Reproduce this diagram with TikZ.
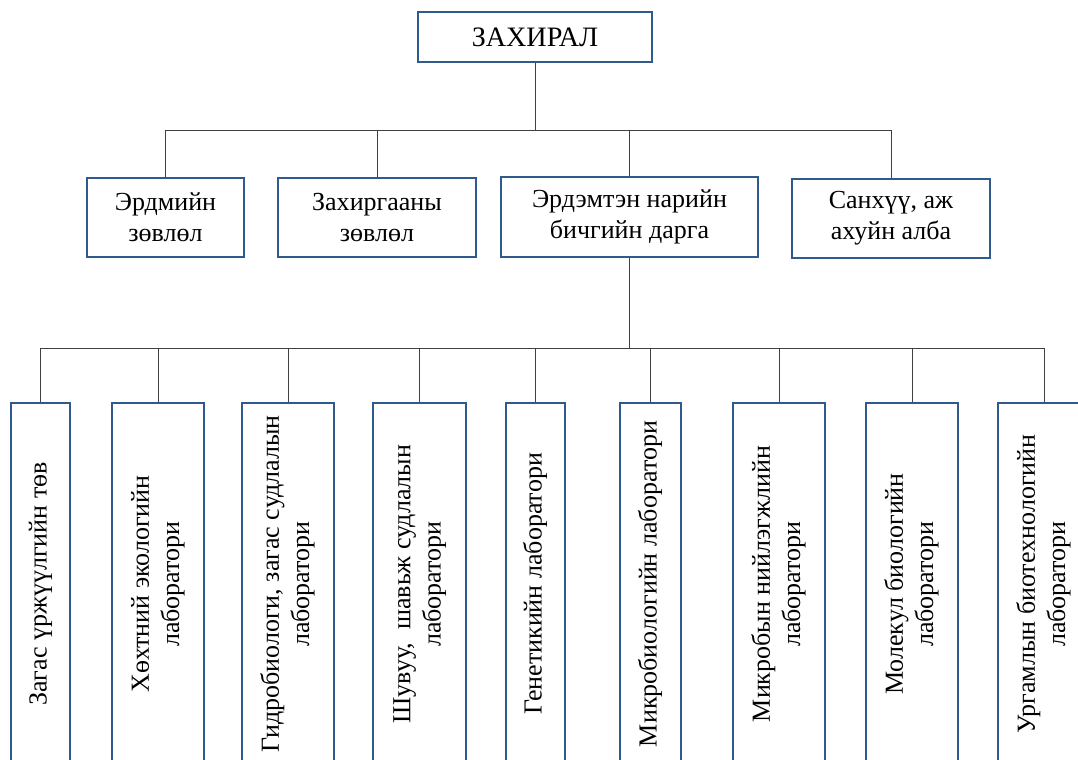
\documentclass[tikz,border=0pt]{standalone}
\usepackage{fontspec}
\setmainfont{Liberation Serif}
\usepackage{graphicx}
\definecolor{BoxBlue}{HTML}{2E5A8C}
\definecolor{LinkGray}{HTML}{404040}
\usetikzlibrary{positioning}
\tikzset{
  % Box styles
  headbox/.style={rectangle, draw=BoxBlue, line width=1.3pt, fill=white, minimum width=5.85cm, minimum height=1.25cm, font=\fontsize{20}{23}\selectfont, align=center, inner sep=0pt},
  deptbox/.style={rectangle, draw=BoxBlue, line width=1.3pt, fill=white, minimum height=1.975cm, font=\fontsize{18.5}{22}\selectfont, align=center, inner sep=0pt},
  labbox/.style={rectangle, draw=BoxBlue, line width=1.3pt, fill=white, minimum height=9.05cm, font=\fontsize{18.5}{21.5}\selectfont, inner sep=0pt},
  % Line styles
  link/.style={draw=LinkGray, line width=0.6pt}
}
\newcommand{\vlab}[1]{\rotatebox{90}{\begin{tabular}{@{}c@{}}#1\end{tabular}}}

\begin{document}
\begin{tikzpicture}[x=0.025cm, y=-0.025cm]
  \useasboundingbox (0,0) rectangle (1078,760);
  \clip (0,0) rectangle (1078,760);

  % Director
  \node[headbox] (dir) at (535,37) {ЗАХИРАЛ};

  % Councils and offices
  \node[deptbox, minimum width=3.925cm] (sci) at (165.5,217.5) {Эрдмийн\\зөвлөл};
  \node[deptbox, minimum width=4.95cm] (adm) at (377,217.5) {Захиргааны\\зөвлөл};
  \node[deptbox, minimum width=6.425cm, minimum height=2cm] (sec) at (629.5,217) {Эрдэмтэн нарийн\\бичгийн дарга};
  \node[deptbox, minimum width=4.95cm] (fin) at (891,218.5) {Санхүү, аж\\ахуйн алба};

  % Bus points
  \coordinate (bus1) at (535,130);
  \coordinate (bus2) at (629.5,348);

  % Laboratories
  \node[labbox, minimum width=1.475cm] (lab1) at (40.5,584) {\vlab{Загас үржүүлгийн төв}};
  \node[labbox, minimum width=2.3cm] (lab2) at (158,584) {\vlab{Хөхтний экологийн\\лаборатори}};
  \node[labbox, minimum width=2.3cm] (lab3) at (288,584) {\vlab{Гидробиологи, загас судлалын\\лаборатори}};
  \node[labbox, minimum width=2.325cm] (lab4) at (419.5,584) {\vlab{Шувуу,\ \ шавьж судлалын\\лаборатори}};
  \node[labbox, minimum width=1.475cm] (lab5) at (535.5,584) {\vlab{Генетикийн лаборатори}};
  \node[labbox, minimum width=1.525cm] (lab6) at (650.5,584) {\vlab{Микробиологийн лаборатори}};
  \node[labbox, minimum width=2.3cm] (lab7) at (779,584) {\vlab{Микробын нийлэгжлийн\\лаборатори}};
  \node[labbox, minimum width=2.3cm] (lab8) at (912,584) {\vlab{Молекул биологийн\\лаборатори}};
  \node[labbox, minimum width=2.3cm] (lab9) at (1044,584) {\vlab{Ургамлын биотехнологийн\\лаборатори}};

  % Connectors
  \draw[link] (dir) -- (bus1);
  \draw[link] (sci.north |- bus1) -- (fin.north |- bus1);
  \foreach \n in {sci,adm,sec,fin}
    \draw[link] (\n) -- (\n.north |- bus1);
  \draw[link] (sec) -- (bus2);
  \draw[link] (lab1.north |- bus2) -- (lab9.north |- bus2);
  \foreach \i in {1,...,9}
    \draw[link] (lab\i) -- (lab\i.north |- bus2);
\end{tikzpicture}
\end{document}
